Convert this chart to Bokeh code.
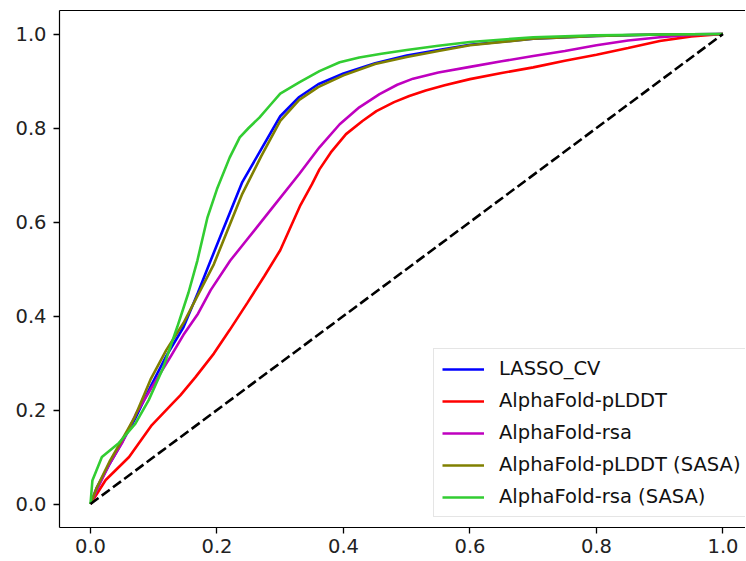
from bokeh.plotting import figure
from bokeh.models import Range1d, FixedTicker, NumeralTickFormatter, Legend, LegendItem, LinearAxis
from bokeh.embed import file_html
from bokeh.resources import INLINE

# ---- data ----
lasso_fpr = [0, 0.01, 0.03, 0.045, 0.07, 0.095, 0.12, 0.147, 0.17, 0.19, 0.21, 0.24, 0.27, 0.30,
             0.33, 0.36, 0.40, 0.45, 0.50, 0.55, 0.60, 0.70, 0.80, 0.90, 1.0]
lasso_tpr = [0, 0.035, 0.085, 0.12, 0.18, 0.25, 0.315, 0.376, 0.45, 0.518, 0.585, 0.685, 0.755, 0.825,
             0.866, 0.893, 0.916, 0.938, 0.954, 0.966, 0.977, 0.99, 0.996, 0.999, 1.0]

plddt_fpr = [0, 0.024, 0.061, 0.097, 0.129, 0.142, 0.166, 0.195, 0.22, 0.248, 0.275, 0.30, 0.315,
             0.332, 0.35, 0.362, 0.38, 0.404, 0.43, 0.452, 0.48, 0.504, 0.53, 0.56, 0.60, 0.65, 0.70,
             0.75, 0.80, 0.85, 0.90, 0.95, 1.0]
plddt_tpr = [0, 0.051, 0.10, 0.168, 0.213, 0.231, 0.27, 0.32, 0.37, 0.428, 0.485, 0.54, 0.585,
             0.636, 0.68, 0.712, 0.748, 0.787, 0.815, 0.836, 0.855, 0.868, 0.88, 0.891, 0.904, 0.917,
             0.929, 0.943, 0.956, 0.97, 0.985, 0.995, 1.0]

rsa_fpr = [0, 0.01, 0.03, 0.05, 0.072, 0.10, 0.125, 0.147, 0.17, 0.19, 0.221, 0.246, 0.288, 0.33,
           0.362, 0.394, 0.425, 0.457, 0.485, 0.51, 0.55, 0.60, 0.65, 0.70, 0.75, 0.80, 0.85, 0.90,
           0.95, 1.0]
rsa_tpr = [0, 0.03, 0.085, 0.13, 0.192, 0.255, 0.31, 0.36, 0.405, 0.455, 0.518, 0.56, 0.631, 0.702,
           0.759, 0.808, 0.844, 0.872, 0.892, 0.905, 0.918, 0.93, 0.942, 0.953, 0.964, 0.976, 0.986,
           0.993, 0.998, 1.0]

plddt_sasa_fpr = [0, 0.01, 0.03, 0.045, 0.07, 0.095, 0.12, 0.147, 0.17, 0.195, 0.21, 0.24, 0.27, 0.30,
                  0.33, 0.36, 0.40, 0.45, 0.50, 0.55, 0.60, 0.70, 0.80, 0.90, 1.0]
plddt_sasa_tpr = [0, 0.035, 0.09, 0.125, 0.185, 0.265, 0.328, 0.385, 0.445, 0.51, 0.56, 0.66, 0.74, 0.815,
                  0.86, 0.887, 0.912, 0.936, 0.951, 0.964, 0.976, 0.99, 0.996, 0.999, 1.0]

rsa_sasa_fpr = [0, 0.003, 0.018, 0.045, 0.071, 0.092, 0.115, 0.137, 0.155, 0.169, 0.185, 0.20, 0.22,
                0.236, 0.25, 0.267, 0.285, 0.30, 0.33, 0.362, 0.394, 0.425, 0.46, 0.50, 0.55, 0.60,
                0.70, 0.80, 0.90, 1.0]
rsa_sasa_tpr = [0, 0.05, 0.10, 0.13, 0.171, 0.221, 0.29, 0.376, 0.45, 0.518, 0.61, 0.67, 0.737,
                0.78, 0.80, 0.822, 0.85, 0.873, 0.897, 0.921, 0.94, 0.95, 0.958, 0.966, 0.975, 0.983,
                0.993, 0.997, 0.999, 1.0]

chance = [0, 1]

series_names = ["LASSO_CV", "AlphaFold-pLDDT", "AlphaFold-rsa",
                "AlphaFold-pLDDT (SASA)", "AlphaFold-rsa (SASA)"]
series_colors = ["#0000ff", "#ff0000", "#bf00bf", "#808000", "#32cd32"]
ticks = [0.0, 0.2, 0.4, 0.6, 0.8, 1.0]

FONT = "DejaVu Sans"
FSIZE = "19.5px"

p = figure(output_backend="svg", toolbar_location=None,
           frame_width=686, frame_height=517,
           x_range=Range1d(-0.049, 1.0356), y_range=Range1d(-0.05, 1.05),
           min_border_left=59, min_border_right=0, min_border_top=10, min_border_bottom=32)
p.background_fill_color = "white"
p.border_fill_color = "white"
p.outline_line_color = None
p.xgrid.visible = False
p.ygrid.visible = False

for ax in (p.xaxis[0], p.yaxis[0]):
    ax.ticker = FixedTicker(ticks=ticks)
    ax.formatter = NumeralTickFormatter(format="0.0")
    ax.axis_line_color = "black"
    ax.axis_line_width = 1.2
    ax.major_tick_in = 0
    ax.major_tick_out = 6
    ax.major_tick_line_width = 1.3
    ax.major_tick_line_color = "black"
    ax.minor_tick_line_color = None
    ax.major_label_text_font = FONT
    ax.major_label_text_font_size = FSIZE
    ax.major_label_text_color = "#222222"
p.xaxis[0].major_label_standoff = 5
p.yaxis[0].major_label_standoff = 7

top = LinearAxis(ticker=FixedTicker(ticks=[]), major_tick_in=0, major_tick_out=0,
                 minor_tick_in=0, minor_tick_out=0, major_label_standoff=0,
                 major_label_text_font_size="0px", axis_line_color="black", axis_line_width=1.2)
p.add_layout(top, "above")

data = [(lasso_fpr, lasso_tpr), (plddt_fpr, plddt_tpr), (rsa_fpr, rsa_tpr),
        (plddt_sasa_fpr, plddt_sasa_tpr), (rsa_sasa_fpr, rsa_sasa_tpr)]
items = []
for (xs, ys), name, col in zip(data, series_names, series_colors):
    r = p.line(xs, ys, line_color=col, line_width=2.6)
    items.append(LegendItem(label=name, renderers=[r]))

p.line(chance, chance, line_color="black", line_width=2.6, line_dash="10 4")

legend = Legend(items=items, location=(374, 10))
legend.label_text_font = FONT
legend.label_text_font_size = FSIZE
legend.label_text_color = "#111111"
legend.glyph_width = 42
legend.glyph_height = 20
legend.label_height = 20
legend.label_standoff = 15
legend.spacing = 9
legend.padding = 8
legend.margin = 0
legend.border_line_color = "#cccccc"
legend.border_line_width = 1
legend.background_fill_color = "white"
legend.background_fill_alpha = 0.8
p.add_layout(legend, "center")

open("out.html", "w").write(file_html(p, INLINE))
